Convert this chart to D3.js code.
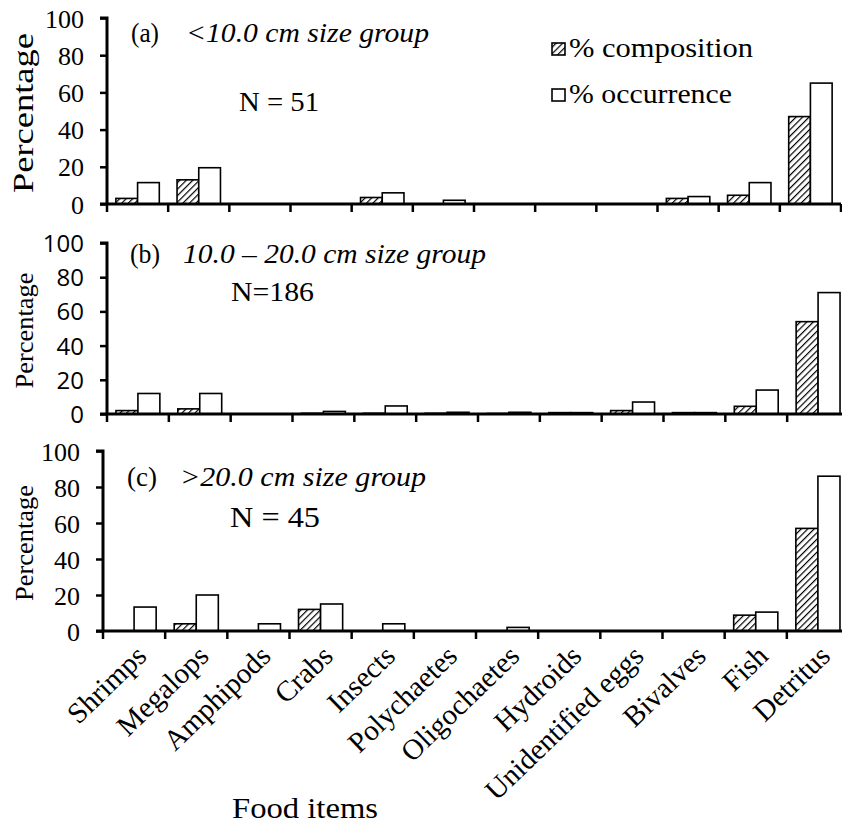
<!DOCTYPE html>
<html>
<head>
<meta charset="utf-8">
<script src="https://cdn.jsdelivr.net/npm/d3@7"></script>
<style>
  html, body { margin: 0; padding: 0; background: #fff; }
  svg { display: block; }
  text { fill: #000; }
</style>
</head>
<body>
<script>
// ---------------- DATA ----------------
const categories = ["Shrimps", "Megalops", "Amphipods", "Crabs", "Insects", "Polychaetes",
  "Oligochaetes", "Hydroids", "Unidentified eggs", "Bivalves", "Fish", "Detritus"];
const seriesNames = ["% composition", "% occurrence"];
const yTicks = [0, 20, 40, 60, 80, 100];

const compositionA = [3, 13, 0, 0, 3.5, 0, 0, 0, 0, 3, 4.7, 47];
const occurrenceA  = [11.5, 19.5, 0, 0, 6, 2, 0, 0, 0, 4, 11.5, 65];
const compositionB = [2, 3, 0, 0.4, 0.4, 0.4, 0.3, 0.8, 2, 0.8, 4.5, 54];
const occurrenceB  = [12, 12, 0, 1.5, 4.7, 1, 1, 0.8, 7, 0.8, 14, 71];
const compositionC = [0, 4, 0, 12, 0, 0, 0, 0, 0, 0, 8.8, 57];
const occurrenceC  = [13.3, 20, 4, 15, 4, 0, 2, 0, 0, 0, 10.5, 86];

const panelTags = ["(a)", "(b)", "(c)"];
const panelGroups = ["<10.0 cm size group", "10.0 \u2013 20.0 cm size group", ">20.0 cm size group"];
const panelNs = ["N = 51", "N=186", "N = 45"];

// ---------------- LAYOUT ----------------
const W = 842, H = 823;
const serif = "'Liberation Serif', 'Times New Roman', serif";
const sans = "'Open Sans', 'Liberation Sans', sans-serif";

const panels = [
  { comp: compositionA, occ: occurrenceA, x0: 107, x1: 841, yZero: 204, yTop: 18,
    tickFont: serif, tickSize: 26, pctLen: 160, pctSize: 30,
    tag: [131, 42, 28], group: [186, 42, 243], n: [239, 111, 80], nSize: 28 },
  { comp: compositionB, occ: occurrenceB, x0: 107, x1: 849, yZero: 414, yTop: 243,
    tickFont: sans, tickSize: 24, pctLen: 116, pctSize: 26,
    tag: [130, 263, 30], group: [183, 263, 303], n: [231, 301, 83], nSize: 28 },
  { comp: compositionC, occ: occurrenceC, x0: 103, x1: 849, yZero: 631, yTop: 451,
    tickFont: serif, tickSize: 26, pctLen: 116, pctSize: 26,
    tag: [127, 486, 30], group: [180, 486, 246], n: [230, 527, 90], nSize: 29 }
];

const svg = d3.select("body").append("svg")
  .attr("width", W).attr("height", H).attr("viewBox", `0 0 ${W} ${H}`);

const defs = svg.append("defs");
const pat = defs.append("pattern")
  .attr("id", "hatch").attr("patternUnits", "userSpaceOnUse")
  .attr("width", 4.6).attr("height", 4.6)
  .attr("patternTransform", "rotate(45)");
pat.append("rect").attr("width", 4.6).attr("height", 4.6).attr("fill", "#fff");
pat.append("line").attr("x1", 0).attr("y1", 0).attr("x2", 0).attr("y2", 4.6)
  .attr("stroke", "#000").attr("stroke-width", 2.4);

function fitText(sel, len) {
  sel.attr("textLength", len).attr("lengthAdjust", "spacingAndGlyphs");
}

panels.forEach((p, pi) => {
  const g = svg.append("g");
  const x = d3.scaleBand().domain(categories).range([p.x0, p.x1])
    .paddingInner(0.29).paddingOuter(0.145);
  const xOuter = d3.scaleBand().domain(categories).range([p.x0, p.x1]).padding(0);
  const sub = d3.scaleBand().domain(seriesNames).range([0, x.bandwidth()]).padding(0);
  const y = d3.scaleLinear().domain([0, 100]).range([p.yZero, p.yTop]);

  // bars
  const rows = categories.map((c, i) => ({ c, vals: [p.comp[i], p.occ[i]] }));
  const grp = g.selectAll("g.cat").data(rows).join("g")
    .attr("transform", d => `translate(${x(d.c)},0)`);
  grp.selectAll("rect")
    .data(d => d.vals.map((v, k) => ({ v, s: seriesNames[k] })).filter(e => e.v > 0))
    .join("rect")
    .attr("x", e => sub(e.s))
    .attr("width", sub.bandwidth())
    .attr("y", e => y(e.v))
    .attr("height", e => y(0) - y(e.v))
    .attr("fill", e => e.s === seriesNames[0] ? "url(#hatch)" : "#fff")
    .attr("stroke", "#000").attr("stroke-width", 1.6);

  // y axis
  const yAxis = d3.axisLeft(y).tickValues(yTicks).tickSize(7).tickPadding(16).tickFormat(d3.format("d"));
  const ya = g.append("g").attr("transform", `translate(${p.x0},0)`).call(yAxis);
  ya.attr("font-family", p.tickFont);
  ya.select(".domain").attr("stroke", "#000").attr("stroke-width", 3)
    .attr("d", `M-7,${y(100)}H0V${y(0)}`);
  ya.selectAll(".tick line").attr("stroke", "#000").attr("stroke-width", 2.5);
  ya.selectAll(".tick text").attr("font-family", p.tickFont).attr("font-size", p.tickSize)
    .attr("dy", "0.35em");

  // x axis (ticks at category boundaries)
  const xa = g.append("g").attr("transform", `translate(0,${p.yZero})`);
  xa.append("line").attr("x1", p.x0 - 7).attr("x2", p.x1).attr("y1", 0).attr("y2", 0)
    .attr("stroke", "#000").attr("stroke-width", 3);
  const bounds = categories.map(c => xOuter(c)).concat([p.x1]);
  xa.selectAll("line.tk").data(bounds).join("line").attr("class", "tk")
    .attr("x1", d => d).attr("x2", d => d).attr("y1", 0).attr("y2", 8)
    .attr("stroke", "#000").attr("stroke-width", 2.5);

  // y label
  const cy = (y(0) + y(100)) / 2;
  g.append("text")
    .attr("transform", `translate(33,${cy + 2}) rotate(-90)`)
    .attr("text-anchor", "middle")
    .attr("font-family", serif).attr("font-size", p.pctSize)
    .text("Percentage")
    .call(fitText, p.pctLen);

  // panel titles
  g.append("text").attr("x", p.tag[0]).attr("y", p.tag[1])
    .attr("font-family", serif).attr("font-size", 28).text(panelTags[pi]).call(fitText, p.tag[2]);
  g.append("text").attr("x", p.group[0]).attr("y", p.group[1])
    .attr("font-family", serif).attr("font-style", "italic").attr("font-size", 28)
    .text(panelGroups[pi]).call(fitText, p.group[2]);
  g.append("text").attr("x", p.n[0]).attr("y", p.n[1])
    .attr("font-family", serif).attr("font-size", p.nSize).text(panelNs[pi]).call(fitText, p.n[2]);

  // x tick labels on bottom panel
  if (pi === 2) {
    g.selectAll("text.cat").data(categories).join("text").attr("class", "cat")
      .attr("transform", d => `translate(${x(d) + x.bandwidth() / 2 + 14},${p.yZero + 27}) rotate(-44)`)
      .attr("text-anchor", "end")
      .attr("font-family", serif).attr("font-size", 29)
      .text(d => d);
    g.append("text").attr("x", 305).attr("y", 818).attr("text-anchor", "middle")
      .attr("font-family", serif).attr("font-size", 29).text("Food items").call(fitText, 146);
  }
});

// legend
const leg = svg.append("g");
const legY = [43, 89];
const legTextLen = [184, 163];
seriesNames.forEach((s, i) => {
  leg.append("rect").attr("x", 552).attr("y", legY[i]).attr("width", 13).attr("height", 12)
    .attr("fill", i === 0 ? "url(#hatch)" : "#fff").attr("stroke", "#000").attr("stroke-width", 1.6);
  leg.append("text").attr("x", 569).attr("y", legY[i] + 14)
    .attr("font-family", serif).attr("font-size", 27).text(s).call(fitText, legTextLen[i]);
});
</script>
</body>
</html>
